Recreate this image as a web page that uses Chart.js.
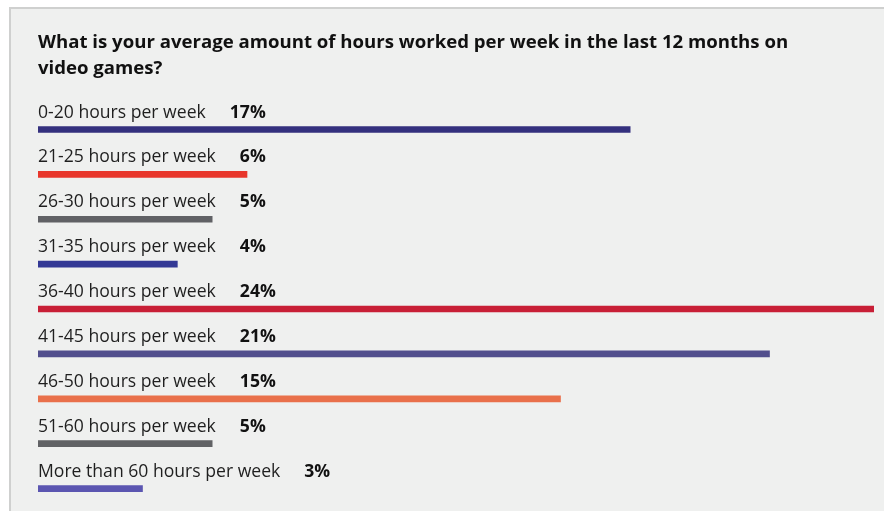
<!DOCTYPE html>
<html>
<head>
<meta charset="utf-8">
<script src="https://cdn.jsdelivr.net/npm/chart.js@4/dist/chart.umd.min.js"></script>
<style>
	html, body { margin: 0; padding: 0; background: #ffffff; overflow: hidden; }
	#wrap { position: relative; width: 884px; height: 511px; overflow: hidden; }
	#panel {
		position: absolute; left: 9px; top: 7px; width: 880px; height: 510px;
		background: #eff0ef;
		border-top: 2px solid #cfd0cf;
		border-left: 2px solid #cfd0cf;
	}
	#hoursChart { position: absolute; left: 0; top: 0; }
</style>
</head>
<body>
<div id="wrap">
	<div id="panel"></div>
	<canvas id="hoursChart" width="884" height="511"></canvas>
</div>
<script>
// 问卷数据
const categories = [
	'0-20 hours per week',
	'21-25 hours per week',
	'26-30 hours per week',
	'31-35 hours per week',
	'36-40 hours per week',
	'41-45 hours per week',
	'46-50 hours per week',
	'51-60 hours per week',
	'More than 60 hours per week'
];
const percentages = [17, 6, 5, 4, 24, 21, 15, 5, 3];
const barColors = ['#34307e', '#e8362b', '#606165', '#333995', '#c81f36', '#524f8d', '#e9704b', '#616265', '#5b56b1'];
const titleLines = [
	'What is your average amount of hours worked per week in the last 12 months on',
	'video games?'
];

const FONT = "'Open Sans', 'Liberation Sans', Arial, sans-serif";

// 在每根条形上方绘制类别名和百分比
const rowLabels = {
	id: 'rowLabels',
	afterDatasetsDraw(chart) {
		const ctx = chart.ctx;
		const yScale = chart.scales.y;
		const left = chart.chartArea.left;
		ctx.save();
		ctx.textBaseline = 'middle';
		ctx.textAlign = 'left';
		categories.forEach((name, i) => {
			const y = yScale.getPixelForValue(i) - 17;
			ctx.font = '17.6px ' + FONT;
			ctx.fillStyle = '#1f1f1f';
			ctx.fillText(name, left, y);
			const w = ctx.measureText(name).width;
			ctx.font = 'bold 17.6px ' + FONT;
			ctx.fillStyle = '#111111';
			ctx.fillText(percentages[i] + '%', left + w + 24, y);
		});
		ctx.restore();
	}
};

const ctx = document.getElementById('hoursChart').getContext('2d');
new Chart(ctx, {
	type: 'bar',
	data: {
		labels: categories,
		datasets: [{
			data: percentages,
			backgroundColor: barColors,
			barThickness: 6,
			borderWidth: 0
		}]
	},
	options: {
		indexAxis: 'y',
		responsive: false,
		animation: false,
		layout: {
			padding: { left: 38, right: 10, top: 0, bottom: 0 }
		},
		scales: {
			x: { display: false, min: 0, max: 24 },
			y: { display: false, offset: true }
		},
		plugins: {
			legend: { display: false },
			tooltip: { enabled: false },
			title: {
				display: true,
				text: titleLines,
				align: 'start',
				color: '#111111',
				font: { family: FONT, size: 18.6, weight: 'bold', lineHeight: 1.4 },
				padding: { top: 30, bottom: 25 }
			}
		}
	},
	plugins: [rowLabels]
});
</script>
</body>
</html>
